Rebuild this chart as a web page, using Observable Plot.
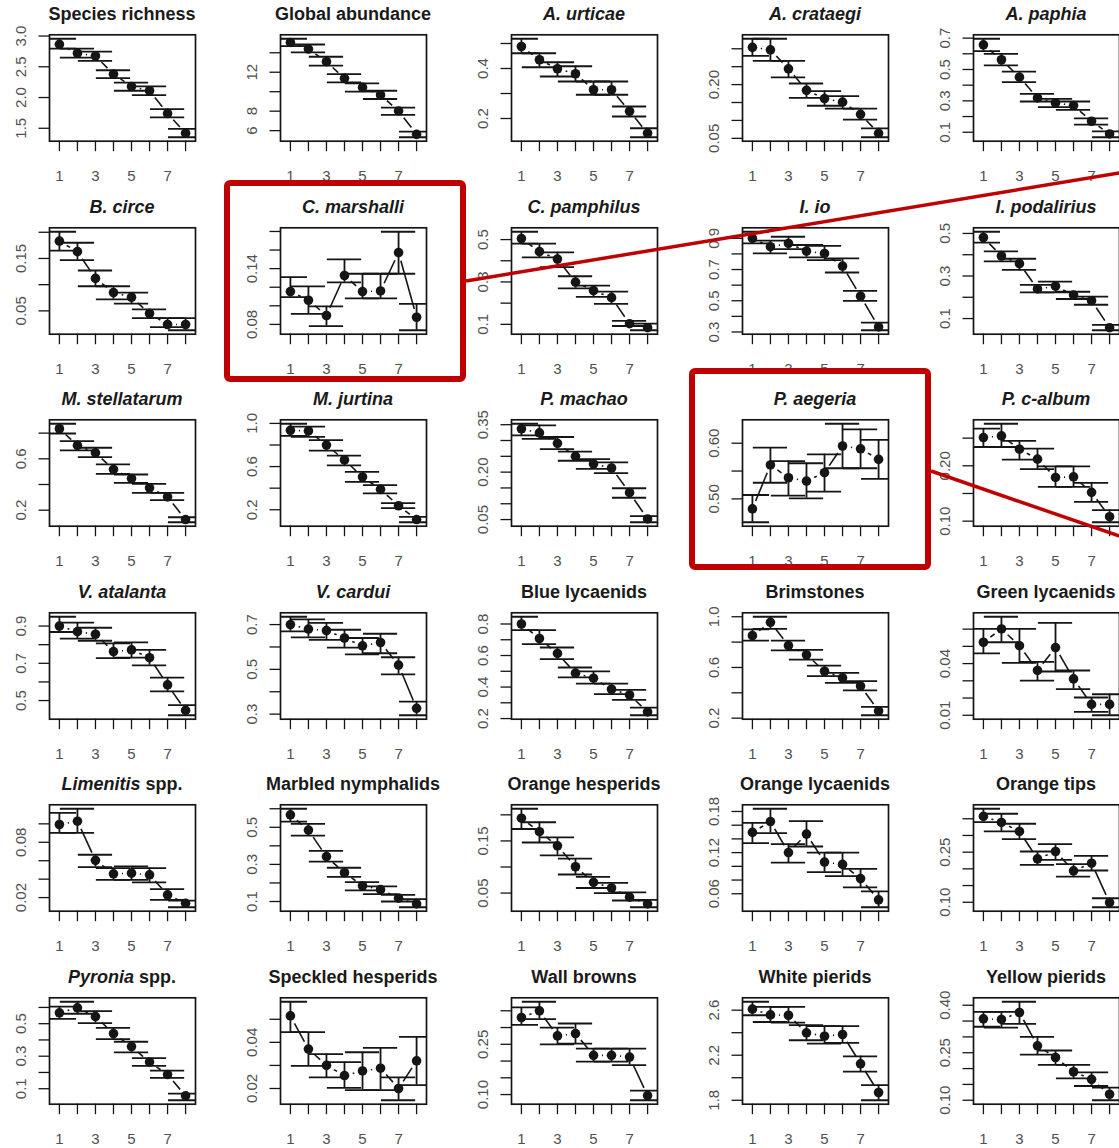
<!DOCTYPE html>
<html><head><meta charset="utf-8">
<script src="https://cdn.jsdelivr.net/npm/d3@7"></script>
<script src="https://cdn.jsdelivr.net/npm/@observablehq/plot@0.6"></script>
<style>
body{margin:0;background:#fff;}
#wrap{position:relative;width:1119px;height:1148px;overflow:hidden;background:#fff;font-family:"Liberation Sans",Arial,sans-serif;}
.panel{position:absolute;}
.title{position:absolute;width:240px;text-align:center;font-weight:bold;font-size:18px;line-height:20px;color:#1a1a1a;white-space:nowrap;}
#overlay{position:absolute;left:0;top:0;pointer-events:none;}
</style></head><body><div id="wrap"></div>
<script>
// ---- data ----
const titles = ["Species richness","Global abundance","A. urticae","A. crataegi","A. paphia",
  "B. circe","C. marshalli","C. pamphilus","I. io","I. podalirius",
  "M. stellatarum","M. jurtina","P. machao","P. aegeria","P. c-album",
  "V. atalanta","V. cardui","Blue lycaenids","Brimstones","Green lycaenids",
  "Limenitis spp.","Marbled nymphalids","Orange hesperids","Orange lycaenids","Orange tips",
  "Pyronia spp.","Speckled hesperids","Wall browns","White pierids","Yellow pierids"];
const italicParts = ["","","A. urticae","A. crataegi","A. paphia",
  "B. circe","C. marshalli","C. pamphilus","I. io","I. podalirius",
  "M. stellatarum","M. jurtina","P. machao","P. aegeria","P. c-album",
  "V. atalanta","V. cardui","","","",
  "Limenitis","","","","",
  "Pyronia","","","",""];
const classes = [1,2,3,4,5,6,7,8];
const xTicks = [1,2,3,4,5,6,7,8];
const xLabels = [1,3,5,7];
const meanVals = [
  [2.865,2.72,2.677,2.38,2.18,2.11,1.74,1.42],
  [15.06,14.38,13.08,11.37,10.44,9.66,8.02,5.62],
  [0.488,0.435,0.399,0.379,0.315,0.315,0.229,0.141],
  [0.304,0.297,0.244,0.184,0.161,0.151,0.117,0.064],
  [0.657,0.562,0.451,0.319,0.287,0.270,0.170,0.089],
  [0.183,0.163,0.112,0.085,0.076,0.045,0.024,0.024],
  [0.1153,0.106,0.0896,0.1326,0.1153,0.116,0.1573,0.0877],
  [0.505,0.443,0.408,0.299,0.259,0.226,0.103,0.084],
  [0.900,0.846,0.867,0.818,0.803,0.722,0.529,0.332],
  [0.481,0.394,0.358,0.239,0.252,0.211,0.184,0.057],
  [0.834,0.704,0.647,0.517,0.447,0.374,0.304,0.127],
  [0.936,0.930,0.799,0.662,0.504,0.389,0.237,0.109],
  [0.337,0.324,0.291,0.250,0.226,0.213,0.135,0.052],
  [0.482,0.561,0.538,0.532,0.547,0.595,0.590,0.571],
  [0.251,0.254,0.230,0.212,0.179,0.180,0.152,0.108],
  [0.900,0.870,0.856,0.763,0.772,0.730,0.584,0.447],
  [0.700,0.680,0.673,0.640,0.605,0.620,0.519,0.326],
  [0.800,0.708,0.613,0.488,0.456,0.386,0.350,0.242],
  [0.851,0.956,0.773,0.700,0.570,0.518,0.453,0.257],
  [0.0524,0.0601,0.0504,0.0360,0.0493,0.0311,0.0163,0.0163],
  [0.0993,0.1029,0.0604,0.0458,0.0465,0.0447,0.0229,0.0138],
  [0.567,0.485,0.342,0.255,0.185,0.164,0.118,0.087],
  [0.1936,0.1677,0.1406,0.1005,0.0707,0.0597,0.0422,0.0293],
  [0.1495,0.1653,0.120,0.147,0.1062,0.1028,0.0821,0.0511],
  [0.357,0.339,0.312,0.230,0.252,0.194,0.217,0.099],
  [0.567,0.597,0.544,0.439,0.359,0.264,0.187,0.056],
  [0.0515,0.0371,0.030,0.0256,0.0276,0.0288,0.020,0.032],
  [0.330,0.350,0.275,0.282,0.217,0.217,0.212,0.097],
  [2.609,2.558,2.555,2.399,2.369,2.384,2.124,1.869],
  [0.357,0.355,0.377,0.272,0.235,0.190,0.166,0.119]
];
const lowerVals = [
  [2.794,2.649,2.595,2.314,2.11,2.04,1.678,1.354],
  [14.68,14.03,12.67,10.96,10.0,9.25,7.61,5.32],
  [0.461,0.405,0.368,0.348,0.295,0.295,0.208,0.125],
  [0.280,0.266,0.220,0.163,0.141,0.133,0.102,0.053],
  [0.617,0.526,0.419,0.296,0.260,0.243,0.149,0.068],
  [0.165,0.147,0.097,0.072,0.064,0.036,0.019,0.013],
  [0.1094,0.0914,0.0782,0.1253,0.108,0.108,0.1345,0.0737],
  [0.481,0.416,0.370,0.270,0.230,0.197,0.092,0.072],
  [0.867,0.803,0.831,0.778,0.760,0.681,0.499,0.311],
  [0.457,0.369,0.329,0.223,0.223,0.192,0.165,0.045],
  [0.797,0.665,0.613,0.483,0.413,0.335,0.278,0.106],
  [0.884,0.875,0.748,0.611,0.459,0.352,0.215,0.084],
  [0.316,0.305,0.273,0.236,0.210,0.197,0.119,0.0415],
  [0.458,0.529,0.506,0.501,0.513,0.555,0.555,0.536],
  [0.234,0.234,0.211,0.194,0.162,0.162,0.135,0.098],
  [0.868,0.833,0.821,0.728,0.730,0.689,0.549,0.421],
  [0.670,0.643,0.632,0.597,0.567,0.572,0.478,0.295],
  [0.761,0.672,0.577,0.461,0.422,0.355,0.319,0.221],
  [0.812,0.904,0.734,0.661,0.531,0.479,0.419,0.223],
  [0.0459,0.0524,0.0404,0.0301,0.0354,0.0252,0.0120,0.0100],
  [0.0902,0.0902,0.0531,0.0393,0.0393,0.0364,0.0175,0.0095],
  [0.531,0.455,0.315,0.233,0.160,0.140,0.100,0.069],
  [0.1729,0.147,0.1224,0.0856,0.0597,0.050,0.0358,0.0228],
  [0.1338,0.1485,0.1053,0.1289,0.0915,0.0856,0.0693,0.0403],
  [0.340,0.312,0.289,0.212,0.227,0.177,0.195,0.085],
  [0.530,0.561,0.504,0.405,0.324,0.241,0.167,0.029],
  [0.0444,0.0298,0.0248,0.0203,0.0193,0.0193,0.0149,0.0215],
  [0.308,0.325,0.250,0.252,0.198,0.198,0.188,0.083],
  [2.555,2.495,2.489,2.333,2.303,2.309,2.055,1.800],
  [0.332,0.329,0.341,0.244,0.212,0.169,0.145,0.100]
];
const upperVals = [
  [2.956,2.794,2.746,2.444,2.244,2.18,1.813,1.489],
  [15.44,14.85,13.59,11.81,10.85,10.10,8.36,5.90],
  [0.519,0.461,0.425,0.409,0.348,0.348,0.248,0.161],
  [0.328,0.328,0.266,0.203,0.182,0.168,0.133,0.078],
  [0.696,0.600,0.487,0.345,0.313,0.296,0.189,0.106],
  [0.201,0.180,0.127,0.097,0.085,0.053,0.036,0.036],
  [0.1308,0.1209,0.0995,0.1499,0.1345,0.1345,0.1797,0.1021],
  [0.537,0.481,0.440,0.327,0.283,0.254,0.116,0.103],
  [0.942,0.885,0.910,0.857,0.852,0.771,0.563,0.360],
  [0.508,0.416,0.381,0.258,0.274,0.226,0.203,0.070],
  [0.873,0.738,0.686,0.556,0.478,0.405,0.335,0.145],
  [0.997,0.970,0.845,0.702,0.550,0.428,0.261,0.133],
  [0.353,0.348,0.311,0.265,0.241,0.231,0.149,0.061],
  [0.507,0.592,0.568,0.564,0.580,0.635,0.625,0.606],
  [0.267,0.276,0.245,0.231,0.199,0.199,0.169,0.120],
  [0.950,0.918,0.891,0.807,0.812,0.772,0.623,0.475],
  [0.735,0.723,0.708,0.677,0.640,0.659,0.554,0.356],
  [0.846,0.761,0.651,0.524,0.499,0.422,0.382,0.270],
  [0.901,1.000,0.812,0.739,0.614,0.557,0.492,0.289],
  [0.0601,0.0672,0.0601,0.0410,0.0636,0.0360,0.0203,0.0222],
  [0.112,0.1164,0.0665,0.052,0.0538,0.052,0.0291,0.0167],
  [0.600,0.518,0.373,0.282,0.204,0.182,0.136,0.113],
  [0.2117,0.1858,0.1567,0.116,0.081,0.0694,0.0513,0.0371],
  [0.1633,0.184,0.1323,0.1658,0.120,0.120,0.0964,0.0634],
  [0.380,0.365,0.335,0.252,0.274,0.214,0.239,0.112],
  [0.605,0.635,0.577,0.474,0.389,0.288,0.211,0.070],
  [0.0576,0.0444,0.0349,0.0314,0.0357,0.0376,0.0248,0.0424],
  [0.360,0.377,0.300,0.312,0.237,0.237,0.237,0.112],
  [2.675,2.630,2.630,2.468,2.459,2.459,2.190,1.935],
  [0.379,0.379,0.411,0.300,0.257,0.212,0.188,0.140]
];
const yTickVals = [
  [1.5,2,2.5,3],[6,8,10,12,14],[0.2,0.3,0.4,0.5],[0.05,0.1,0.15,0.2,0.25,0.3],[0.1,0.2,0.3,0.4,0.5,0.6,0.7],
  [0.05,0.1,0.15,0.2],[0.08,0.1,0.12,0.14,0.16,0.18],[0.1,0.2,0.3,0.4,0.5],[0.3,0.4,0.5,0.6,0.7,0.8,0.9],[0.1,0.2,0.3,0.4,0.5],
  [0.2,0.4,0.6,0.8],[0.2,0.4,0.6,0.8,1.0],[0.05,0.1,0.15,0.2,0.25,0.3,0.35],[0.5,0.55,0.6],[0.1,0.15,0.2,0.25],
  [0.5,0.6,0.7,0.8,0.9],[0.3,0.4,0.5,0.6,0.7],[0.2,0.3,0.4,0.5,0.6,0.7,0.8],[0.2,0.4,0.6,0.8,1.0],[0.01,0.02,0.03,0.04,0.05,0.06],
  [0.02,0.04,0.06,0.08,0.1],[0.1,0.2,0.3,0.4,0.5,0.6],[0.05,0.1,0.15,0.2],[0.06,0.08,0.1,0.12,0.14,0.16,0.18],[0.1,0.15,0.2,0.25,0.3,0.35],
  [0.1,0.2,0.3,0.4,0.5,0.6],[0.02,0.03,0.04,0.05],[0.1,0.15,0.2,0.25,0.3,0.35],[1.8,2.0,2.2,2.4,2.6],[0.1,0.15,0.2,0.25,0.3,0.35,0.4]
];
const yTickLabels = [
  ["1.5","2.0","2.5","3.0"],["6","8","12"],["0.2","0.4"],["0.05","0.20"],["0.1","0.3","0.5","0.7"],
  ["0.05","0.15"],["0.08","0.14"],["0.1","0.3","0.5"],["0.3","0.5","0.7","0.9"],["0.1","0.3","0.5"],
  ["0.2","0.6"],["0.2","0.6","1.0"],["0.05","0.20","0.35"],["0.50","0.60"],["0.10","0.20"],
  ["0.5","0.7","0.9"],["0.3","0.5","0.7"],["0.2","0.4","0.6","0.8"],["0.2","0.6","1.0"],["0.01","0.04"],
  ["0.02","0.08"],["0.1","0.3","0.5"],["0.05","0.15"],["0.06","0.12","0.18"],["0.10","0.25"],
  ["0.1","0.3","0.5"],["0.02","0.04"],["0.10","0.25"],["1.8","2.2","2.6"],["0.10","0.25","0.40"]
];

// ---- layout ----
const COLW = 231, ROWH = 192.6;
const W = 231, H = 193;
const mL = 49, mR = 36, mT = 34.3, mB = H - 140.7;
const fw = W - mL - mR, fh = H - mT - mB;
const xDomain = [0.45, 8.55];
const capHalf = 0.95, gapPx = 8.5;
const ink = "#151515";
const labelInk = "#505050";
const tickFont = 15;

const wrap = document.getElementById("wrap");

titles.forEach((title, i) => {
  const r = Math.floor(i / 5), c = i % 5;
  const m = meanVals[i], lo = lowerVals[i], hi = upperVals[i];
  const rows = classes.map((x, j) => ({x, mean: m[j], lo: lo[j], hi: hi[j]}));
  const caps = rows.flatMap(d => [{x1: d.x - capHalf, x2: d.x + capHalf, y: d.lo}, {x1: d.x - capHalf, x2: d.x + capHalf, y: d.hi}]);
  const yMin = d3.min(lo), yMax = d3.max(hi);
  const pad = (yMax - yMin) * 0.04;
  const yDomain = [yMin - pad, yMax + pad];
  const kx = fw / (xDomain[1] - xDomain[0]);
  const ky = fh / (yDomain[1] - yDomain[0]);
  const segs = [];
  for (let j = 0; j < rows.length - 1; j++) {
    const a = rows[j], b = rows[j + 1];
    const dxp = (b.x - a.x) * kx, dyp = (b.mean - a.mean) * ky;
    const L = Math.hypot(dxp, dyp);
    if (L > 2 * gapPx + 1) {
      const t = gapPx / L;
      segs.push({x1: a.x + t * (b.x - a.x), y1: a.mean + t * (b.mean - a.mean),
                 x2: b.x - t * (b.x - a.x), y2: b.mean - t * (b.mean - a.mean)});
    }
  }
  const chart = Plot.plot({
    width: W, height: H,
    marginLeft: mL, marginRight: mR, marginTop: mT, marginBottom: mB,
    style: {background: "transparent", overflow: "visible", fontFamily: "'Liberation Sans', Arial, sans-serif", fontSize: tickFont + "px"},
    x: {domain: xDomain},
    y: {domain: yDomain},
    marks: [
      Plot.axisX(xTicks, {tickSize: 10.5, tickFormat: () => "", stroke: ink, strokeWidth: 1.3}),
      Plot.axisY(yTickVals[i], {tickSize: 10.5, tickFormat: () => "", stroke: ink, strokeWidth: 1.3}),
      Plot.text(xLabels, {x: d => d, frameAnchor: "bottom", dy: 35, lineAnchor: "middle", fontSize: tickFont, fill: labelInk}),
      Plot.text(yTickLabels[i], {y: d => +d, text: d => d, frameAnchor: "left", dx: -28, rotate: -90, textAnchor: "middle", lineAnchor: "middle", fontSize: tickFont, fill: labelInk}),
      Plot.link(segs, {x1: "x1", y1: "y1", x2: "x2", y2: "y2", stroke: ink, strokeWidth: 1.6, clip: true}),
      Plot.ruleY(caps, {y: "y", x1: "x1", x2: "x2", stroke: ink, strokeWidth: 1.8, clip: true}),
      Plot.ruleX(rows, {x: "x", y1: "lo", y2: "hi", stroke: ink, strokeWidth: 1.8, clip: true}),
      Plot.dot(rows, {x: "x", y: "mean", r: 4.8, fill: ink, stroke: "none"}),
      Plot.frame({stroke: ink, strokeWidth: 1.7})
    ]
  });
  chart.classList.add("panel");
  chart.style.left = (c * COLW) + "px";
  chart.style.top = (r * ROWH) + "px";
  wrap.appendChild(chart);

  const t = document.createElement("div");
  t.className = "title";
  t.style.left = (c * COLW + mL + fw / 2 - 120) + "px";
  t.style.top = (r * ROWH + 4) + "px";
  const it = italicParts[i];
  if (it && title.startsWith(it)) {
    const em = document.createElement("i");
    em.textContent = it;
    t.appendChild(em);
    t.appendChild(document.createTextNode(title.slice(it.length)));
  } else {
    t.textContent = title;
  }
  wrap.appendChild(t);
});

// ---- highlight annotations ----
const ov = d3.select(wrap).append("svg").attr("id", "overlay").attr("width", 1119).attr("height", 1148);
const red = "#c00000";
ov.append("line").attr("x1", 466).attr("y1", 281).attr("x2", 1125).attr("y2", 172).attr("stroke", red).attr("stroke-width", 3.5);
ov.append("line").attr("x1", 931).attr("y1", 471).attr("x2", 1125).attr("y2", 538).attr("stroke", red).attr("stroke-width", 3.5);
ov.append("rect").attr("x", 227).attr("y", 183).attr("width", 236).attr("height", 196).attr("rx", 3)
  .attr("fill", "none").attr("stroke", red).attr("stroke-width", 6);
ov.append("rect").attr("x", 692).attr("y", 371).attr("width", 236).attr("height", 196).attr("rx", 3)
  .attr("fill", "none").attr("stroke", red).attr("stroke-width", 6);
</script></body></html>
